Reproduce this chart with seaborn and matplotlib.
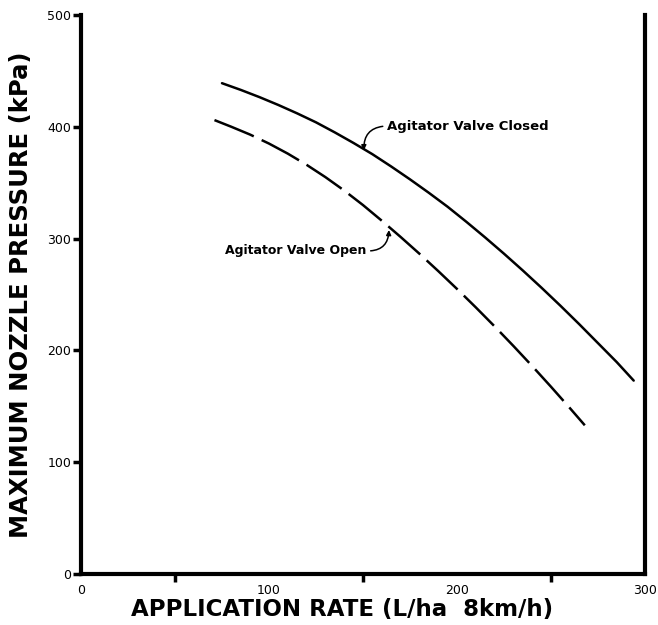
import numpy as np
import pandas as pd
import matplotlib
matplotlib.use("Agg")
import matplotlib.pyplot as plt
import seaborn as sns

# valeurs
closed_rate = [75, 85, 95, 105, 115, 125, 135, 145, 155, 165, 175, 185,
               195, 205, 215, 225, 235, 245, 255, 265, 275, 285, 294]
closed_pressure = [439, 433, 426.5, 419.5, 412, 404, 395, 385.5, 375.5, 364.5, 353, 341,
                   328.5, 315, 301, 286.5, 271.5, 256, 240, 223.5, 206.5, 189.5, 173]

open_rate = [71, 80, 90, 100, 110, 120, 130, 140, 150, 160, 170, 180,
             190, 200, 210, 220, 230, 240, 250, 260, 268]
open_pressure = [406, 400, 393, 385, 376, 366, 355, 343, 330, 316, 301.5, 286.5,
                 271, 255, 238.5, 221.5, 204, 186, 167.5, 148.5, 133]

x_ticks = [0, 100, 200, 300]
x_minor = [50, 150, 250]
y_ticks = [0, 100, 200, 300, 400, 500]

sns.set_theme(style="white")
plt.rcParams['font.family'] = ['DejaVu Sans']
plt.rcParams['text.color'] = 'black'
plt.rcParams['axes.labelcolor'] = 'black'
plt.rcParams['xtick.color'] = 'black'
plt.rcParams['ytick.color'] = 'black'

fig, ax = plt.subplots(figsize=(6.58, 6.25), dpi=100)
fig.subplots_adjust(left=0.1231, right=0.9802, top=0.976, bottom=0.0816)

sns.lineplot(x=closed_rate, y=closed_pressure, ax=ax, color="black", linewidth=1.8)
sns.lineplot(x=open_rate, y=open_pressure, ax=ax, color="black", linewidth=1.8)
ax.lines[-1].set_dashes((17, 3.5))
ax.lines[-1].set_dash_capstyle("butt")

ax.set_xlim(0, 300)
ax.set_ylim(0, 500)
ax.set_xticks(x_ticks)
ax.set_xticks(x_minor, minor=True)
ax.set_yticks(y_ticks)
ax.set_xticklabels([str(v) for v in x_ticks], fontsize=9)
ax.set_yticklabels([str(v) for v in y_ticks], fontsize=9)
ax.tick_params(axis="both", which="both", direction="out", width=2.5)
ax.tick_params(axis="x", which="major", length=6, pad=1)
ax.tick_params(axis="x", which="minor", length=6, bottom=True)
ax.tick_params(axis="y", which="major", length=6, left=True, pad=1)

for side in ["left", "bottom", "right"]:
    ax.spines[side].set_visible(True)
    ax.spines[side].set_color("black")
    ax.spines[side].set_linewidth(3)
ax.spines["top"].set_visible(False)

ax.set_xlabel("APPLICATION RATE (L/ha  8km/h)", fontsize=16.5, fontweight="bold")
ax.set_ylabel("MAXIMUM NOZZLE PRESSURE (kPa)", fontsize=17.5, fontweight="bold")
ax.xaxis.set_label_coords(0.463, -0.043)
ax.yaxis.set_label_coords(-0.085, 0.5)

ax.annotate("Agitator Valve Closed", xy=(150.5, 379), xytext=(163, 400.7),
            fontsize=9.5, fontweight="bold", ha="left", va="center",
            arrowprops=dict(arrowstyle="-|>", color="black", lw=1.1,
                            connectionstyle="arc3,rad=0.5", mutation_scale=7,
                            relpos=(0, 0.5), shrinkA=1, shrinkB=0))
ax.annotate("Agitator Valve Open", xy=(163.8, 307.7), xytext=(151.6, 289),
            fontsize=9, fontweight="bold", ha="right", va="center",
            arrowprops=dict(arrowstyle="-|>", color="black", lw=1.1,
                            connectionstyle="arc3,rad=0.5", mutation_scale=7,
                            relpos=(1, 0.5), shrinkA=1, shrinkB=0))

fig.savefig("out.png", dpi=100, facecolor="white")
